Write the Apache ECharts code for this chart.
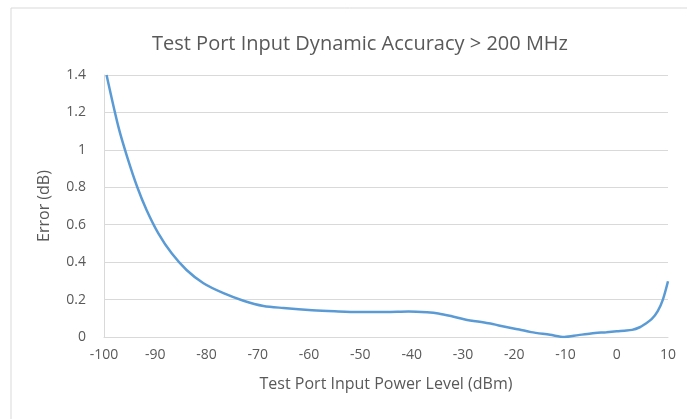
<!DOCTYPE html>
<html><head><meta charset="utf-8">
<script src="https://cdn.jsdelivr.net/npm/echarts@6/dist/echarts.min.js"></script>
<style>html,body{margin:0;padding:0;background:#fff}#c{width:687px;height:419px}</style>
</head><body><div id="c"></div>
<script>
const titleText = 'Test Port Input Dynamic Accuracy > 200 MHz';
const xName = 'Test Port Input Power Level (dBm)';
const yName = 'Error (dB)';
const powerLevels = [-99.5,-97.2,-95.5,-93.5,-91.7,-89.4,-86.8,-83.9,-80.6,-76.7,-72.8,-68.9,-65,-59.4,-55,-50.3,-45,-40.6,-37,-34.8,-32,-29.6,-25,-21.8,-19,-16.7,-13,-10.2,-7.5,-5,-2,0,1.5,3,4.5,5.4,6.8,8,9,10];
const errorValues = [1.4,1.124,0.964,0.80,0.679,0.554,0.447,0.358,0.287,0.234,0.194,0.166,0.155,0.143,0.137,0.133,0.133,0.136,0.132,0.126,0.110,0.094,0.073,0.055,0.040,0.026,0.012,0.0,0.01,0.019,0.026,0.031,0.034,0.038,0.052,0.067,0.095,0.138,0.2,0.298];
const chart = echarts.init(document.getElementById('c'));
const txt = '#595959', grid = '#d9d9d9', font = 'Open Sans';
chart.setOption({
  animation:false,
  title:{text:titleText,left:355,top:29,textAlign:'center',textStyle:{fontFamily:font,fontSize:20,fontWeight:'normal',color:txt}},
  graphic:[{type:'rect',shape:{x:11,y:8,width:700,height:450},style:{fill:'none',stroke:'#d9d9d9',lineWidth:1}}],
  grid:{left:104,right:19,top:75,bottom:82},
  xAxis:{type:'value',min:-100,max:10,interval:10,name:xName,nameLocation:'middle',nameGap:39,
    nameTextStyle:{fontFamily:font,fontSize:16,color:txt},
    axisLine:{onZero:false,lineStyle:{color:grid}},axisTick:{show:false},splitLine:{show:false},
    axisLabel:{fontFamily:font,fontSize:14,color:txt,margin:11}},
  yAxis:{type:'value',min:0,max:1.4,interval:0.2,name:yName,nameLocation:'middle',nameGap:52,
    nameTextStyle:{fontFamily:font,fontSize:16,color:txt},
    axisLine:{show:true,onZero:false,lineStyle:{color:grid}},axisTick:{show:false},
    splitLine:{lineStyle:{color:grid}},
    axisLabel:{fontFamily:font,fontSize:14,color:txt,margin:18,formatter:v=>String(+v.toFixed(1))}},
  series:[{type:'line',data:powerLevels.map((x,i)=>[x,errorValues[i]]),showSymbol:false,smooth:0.3,
    lineStyle:{color:'#5b9bd5',width:2.5}}]
});
</script></body></html>
